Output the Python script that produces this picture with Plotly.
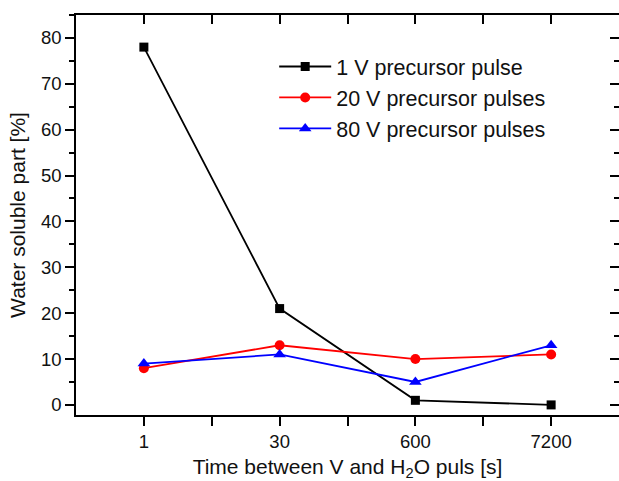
import plotly.graph_objects as go

categories = ["1", "30", "600", "7200"]
s1_name = "1 V precursor pulse"
s1 = [78, 21, 1, 0]
s2_name = "20 V precursor pulses"
s2 = [8, 13, 10, 11]
s3_name = "80 V precursor pulses"
s3 = [9, 11, 5, 13]

FONT = "Liberation Sans, Arial, sans-serif"
xpos = list(range(len(categories)))

fig = go.Figure()
fig.add_trace(go.Scatter(x=xpos, y=s1, name=s1_name, mode="lines+markers",
                         line=dict(color="black", width=1.8),
                         marker=dict(symbol="square", size=9, color="black")))
fig.add_trace(go.Scatter(x=xpos, y=s2, name=s2_name, mode="lines+markers",
                         line=dict(color="#ff0000", width=1.8),
                         marker=dict(symbol="circle", size=10, color="#ff0000")))
fig.add_trace(go.Scatter(x=xpos, y=s3, name=s3_name, mode="lines+markers",
                         line=dict(color="#0000ff", width=1.8),
                         marker=dict(symbol="triangle-up", size=11, color="#0000ff")))

axis_common = dict(showline=True, linecolor="black", linewidth=1.5, showgrid=False,
                   zeroline=False, ticks="outside", tickcolor="black", tickwidth=1.5,
                   ticklen=9, tickfont=dict(family=FONT, size=18.5, color="#111"),
                   mirror=False)

fig.update_layout(
    width=619, height=481,
    margin=dict(l=76, r=0, t=15, b=66),
    plot_bgcolor="white", paper_bgcolor="white",
    font=dict(family=FONT, color="#111"),
    showlegend=True,
    legend=dict(x=0.365, y=0.9225, xanchor="left", yanchor="top",
                bgcolor="rgba(0,0,0,0)", font=dict(family=FONT, size=21.5, color="#111"),
                itemwidth=52, tracegroupgap=0),
    xaxis=dict(axis_common, range=[-0.5, 3.5], tickmode="array", tickvals=xpos,
               ticktext=categories,
               minor=dict(tickmode="array", tickvals=[0.5, 1.5, 2.5], ticks="outside",
                          ticklen=9, tickcolor="black", tickwidth=1.5),
               title=dict(text="Time between V and H<sub>2</sub>O puls [s]",
                          font=dict(family=FONT, size=21, color="#111"), standoff=14)),
    yaxis=dict(axis_common, range=[-2.2, 85], tickmode="linear", tick0=0, dtick=10,
               minor=dict(dtick=5, ticks="outside", ticklen=5, tickcolor="black", tickwidth=1.5),
               title=dict(text="Water soluble part [%]",
                          font=dict(family=FONT, size=21, color="#111"), standoff=10)),
    xaxis2=dict(overlaying="x", side="top", range=[-0.5, 3.5], showline=True,
                linecolor="black", linewidth=1.5, ticks="inside", tickcolor="black",
                tickwidth=1.5, ticklen=9, tickmode="array", tickvals=xpos,
                showticklabels=False, showgrid=False, zeroline=False,
                minor=dict(tickmode="array", tickvals=[0.5, 1.5, 2.5], ticks="inside",
                           ticklen=9, tickcolor="black", tickwidth=1.5)),
    yaxis2=dict(overlaying="y", side="right", range=[-2.2, 85], showline=True,
                linecolor="black", linewidth=1.5, ticks="inside", tickcolor="black",
                tickwidth=1.5, ticklen=9, tickmode="linear", tick0=0, dtick=10,
                showticklabels=False, showgrid=False, zeroline=False,
                minor=dict(dtick=5, ticks="inside", ticklen=5, tickcolor="black", tickwidth=1.5)),
)
# invisible trace to activate secondary axes
fig.add_trace(go.Scatter(x=[None], y=[None], xaxis="x2", yaxis="y2", showlegend=False,
                         hoverinfo="skip"))

fig.write_html("out.html")
